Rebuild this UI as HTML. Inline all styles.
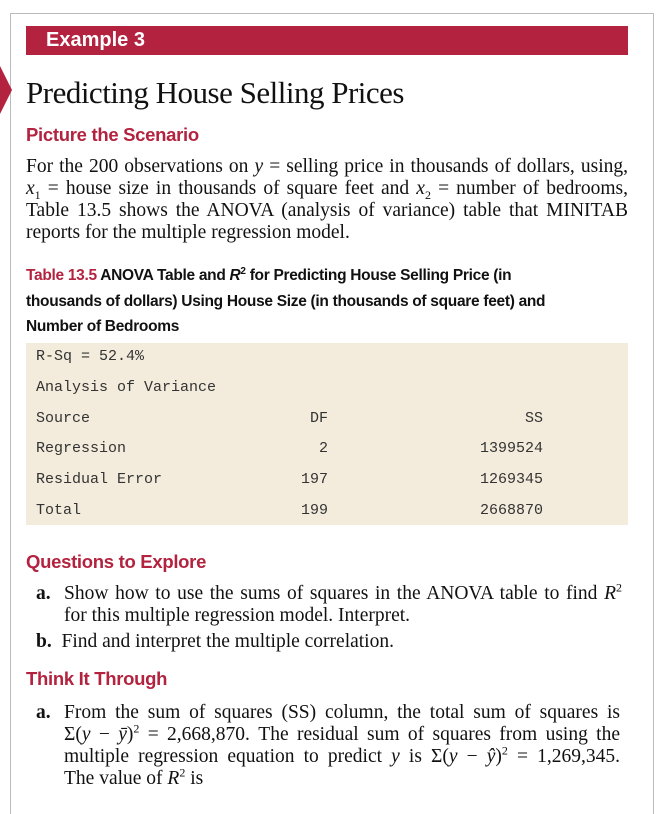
<!DOCTYPE html>
<html><head><meta charset="utf-8"><style>
body{margin:0;width:658px;height:794px;background:#fff;position:relative;overflow:hidden;font-family:"Liberation Serif",serif;color:#111}
.a{position:absolute;white-space:nowrap}
.s{font-family:"Liberation Sans",sans-serif;font-weight:bold;color:#b3233f;font-size:18.5px;letter-spacing:-0.3px}
.L{position:absolute;font-size:19.5px;line-height:22px;white-space:nowrap;text-align:justify;text-align-last:justify}
.n{text-align-last:left}
.m{font-family:"Liberation Mono",monospace;font-size:15px;color:#333}
.t{font-family:"Liberation Sans",sans-serif;font-weight:bold;font-size:15.5px;left:26px;color:#111;letter-spacing:-0.3px}
sub,sup{font-size:12px;line-height:0}
</style></head><body>
<div class="a" style="left:10px;top:13px;width:642px;height:800px;border:1px solid #bbb;border-bottom:none"></div>
<div class="a" style="left:0;top:66px;width:0;height:0;border-top:24px solid transparent;border-bottom:24px solid transparent;border-left:12px solid #b3233f"></div>
<div class="a" style="left:26px;top:26px;width:602px;height:29px;background:#b3233f"></div>
<div class="a" style="left:46px;top:29px;font-family:'Liberation Sans',sans-serif;font-weight:bold;font-size:20px;color:#fff">Example 3</div>
<div class="a" style="left:26px;top:75px;font-size:31px;letter-spacing:-0.5px">Predicting House Selling Prices</div>
<div class="a s" style="left:26px;top:124px">Picture the Scenario</div>
<div>
<div class="L" style="left:26px;width:602px;top:156px">For the 200 observations on <i>y</i> = selling price in thousands of dollars, using,</div>
<div class="L" style="left:26px;width:602px;top:178px"><i>x</i><sub>1</sub> = house size in thousands of square feet and <i>x</i><sub>2</sub> = number of bedrooms,</div>
<div class="L" style="left:26px;width:602px;top:200px">Table 13.5 shows the ANOVA (analysis of variance) table that MINITAB</div>
<div class="L n" style="left:26px;width:602px;top:222px">reports for the multiple regression model.</div>
</div>
<div class="a t" style="top:263px;line-height:25.5px"><span style="color:#b3233f">Table 13.5</span> ANOVA Table and <i>R</i><sup style="font-size:10px">2</sup> for Predicting House Selling Price (in<br>thousands of dollars) Using House Size (in thousands of square feet) and<br>Number of Bedrooms</div>
<div class="a" style="left:26px;top:343px;width:602px;height:182px;background:#f3ecdc"></div>
<div class="a m" style="left:36px;top:348px">R-Sq = 52.4%</div>
<div class="a m" style="left:36px;top:379px">Analysis of Variance</div>
<div class="a m" style="left:36px;top:410px">Source</div>
<div class="a m" style="right:330px;top:410px">DF</div>
<div class="a m" style="right:115px;top:410px">SS</div>
<div class="a m" style="left:36px;top:440px">Regression</div>
<div class="a m" style="right:330px;top:440px">2</div>
<div class="a m" style="right:115px;top:440px">1399524</div>
<div class="a m" style="left:36px;top:471px">Residual Error</div>
<div class="a m" style="right:330px;top:471px">197</div>
<div class="a m" style="right:115px;top:471px">1269345</div>
<div class="a m" style="left:36px;top:502px">Total</div>
<div class="a m" style="right:330px;top:502px">199</div>
<div class="a m" style="right:115px;top:502px">2668870</div>
<div class="a s" style="left:26px;top:551px">Questions to Explore</div>
<div class="L n" style="left:36px;top:583px"><b>a.</b></div>
<div class="L" style="left:64px;width:558px;top:583px">Show how to use the sums of squares in the ANOVA table to find <i>R</i><sup>2</sup></div>
<div class="L n" style="left:64px;top:605px">for this multiple regression model. Interpret.</div>
<div class="L n" style="left:36px;top:631px"><b>b.</b>&nbsp; Find and interpret the multiple correlation.</div>
<div class="a s" style="left:26px;top:668px">Think It Through</div>
<div class="L n" style="left:36px;top:702px"><b>a.</b></div>
<div class="L" style="left:64px;width:556px;top:702px">From the sum of squares (SS) column, the total sum of squares is</div>
<div class="L" style="left:64px;width:556px;top:724px">Σ(<i>y</i> − <i>ȳ</i>)<sup>2</sup> = 2,668,870. The residual sum of squares from using the</div>
<div class="L" style="left:64px;width:556px;top:746px">multiple regression equation to predict <i>y</i> is Σ(<i>y</i> − <i>ŷ</i>)<sup>2</sup> = 1,269,345.</div>
<div class="L n" style="left:64px;top:768px">The value of <i>R</i><sup>2</sup> is</div>
</body></html>
